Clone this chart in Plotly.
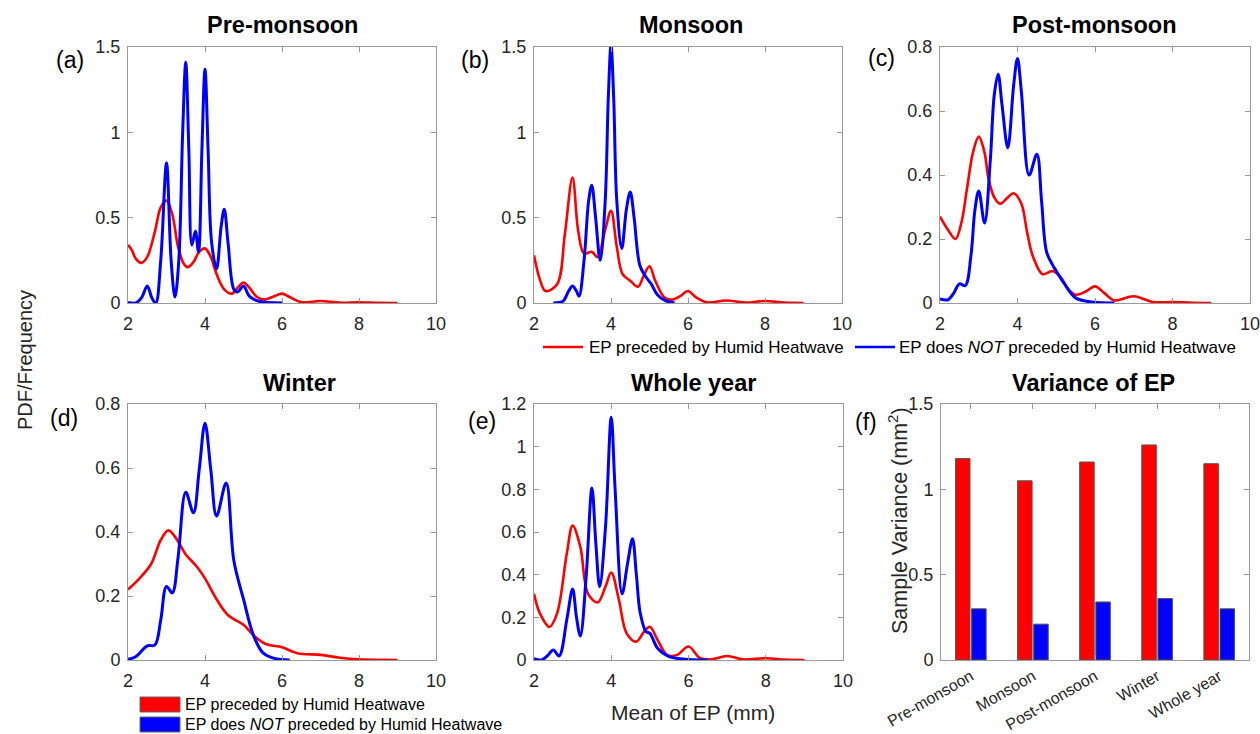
import plotly.graph_objects as go

# ---------------- data ----------------
# (a) Pre-monsoon
a_red_x = [2.0, 2.1, 2.2, 2.35, 2.5, 2.7, 2.85, 3.0, 3.15, 3.3, 3.45, 3.55, 3.7, 3.85, 4.0, 4.15, 4.3, 4.5, 4.7, 4.85,
           5.0, 5.15, 5.35, 5.55, 5.8, 6.0, 6.2, 6.5, 7.0, 7.5, 8.0, 8.5, 9.0]
a_red_y = [0.34, 0.31, 0.26, 0.235, 0.27, 0.42, 0.56, 0.60, 0.52, 0.33, 0.23, 0.21, 0.24, 0.30, 0.32, 0.27, 0.17, 0.08,
           0.055, 0.09, 0.12, 0.09, 0.035, 0.02, 0.04, 0.055, 0.035, 0.005, 0.012, 0.002, 0.004, 0.001, 0.0]
a_blue_x = [2.0, 2.2, 2.35, 2.5, 2.62, 2.72, 2.85, 3.0, 3.12, 3.22, 3.32, 3.42, 3.5, 3.58, 3.66, 3.75, 3.83, 3.92, 4.0,
            4.08, 4.17, 4.3, 4.42, 4.5, 4.6, 4.75, 4.85, 5.0, 5.15, 5.4, 6.0]
a_blue_y = [0.003, 0.0, 0.03, 0.10, 0.03, 0.0, 0.25, 0.82, 0.25, 0.035, 0.25, 1.0, 1.41, 0.9, 0.34, 0.42, 0.30, 0.9, 1.37,
            0.9, 0.36, 0.2, 0.45, 0.55, 0.35, 0.08, 0.065, 0.10, 0.04, 0.01, 0.0]

# (b) Monsoon
b_red_x = [2.0, 2.15, 2.3, 2.6, 2.8, 3.0, 3.15, 3.3, 3.5, 3.65, 3.85, 4.0, 4.15, 4.3, 4.5, 4.7, 4.85, 5.0, 5.15, 5.4,
           5.6, 5.8, 6.0, 6.2, 6.5, 7.0, 7.5, 8.0, 8.5, 9.0]
b_red_y = [0.28, 0.14, 0.07, 0.11, 0.40, 0.735, 0.42, 0.29, 0.30, 0.27, 0.43, 0.54, 0.33, 0.17, 0.13, 0.095, 0.16, 0.215,
           0.13, 0.03, 0.02, 0.04, 0.07, 0.035, 0.003, 0.015, 0.002, 0.012, 0.002, 0.0]
b_blue_x = [2.5, 2.75, 2.9, 3.0, 3.1, 3.17, 3.3, 3.42, 3.5, 3.6, 3.72, 3.85, 3.93, 4.0, 4.07, 4.15, 4.28, 4.4, 4.5, 4.6,
            4.75, 4.9, 5.05, 5.2, 5.4, 5.65]
b_blue_y = [0.0, 0.01, 0.07, 0.1, 0.07, 0.04, 0.25, 0.6, 0.69, 0.5, 0.25, 0.6, 1.2, 1.51, 1.2, 0.6, 0.32, 0.55, 0.65, 0.5,
            0.22, 0.155, 0.11, 0.05, 0.015, 0.0]

# (c) Post-monsoon
c_red_x = [2.0, 2.2, 2.4, 2.55, 2.7, 2.85, 3.0, 3.15, 3.25, 3.4, 3.55, 3.75, 3.9, 4.1, 4.25, 4.4, 4.65, 4.9, 5.1, 5.3,
           5.5, 5.75, 6.0, 6.25, 6.5, 7.0, 7.5, 8.0, 8.5, 9.0]
c_red_y = [0.27, 0.23, 0.2, 0.25, 0.36, 0.47, 0.52, 0.47, 0.39, 0.33, 0.31, 0.33, 0.343, 0.31, 0.22, 0.145, 0.09, 0.10,
           0.083, 0.045, 0.026, 0.035, 0.052, 0.03, 0.008, 0.021, 0.003, 0.003, 0.001, 0.0]
c_blue_x = [2.0, 2.2, 2.35, 2.5, 2.65, 2.8, 2.9, 3.0, 3.15, 3.3, 3.4, 3.5, 3.6, 3.75, 3.9, 4.0, 4.1, 4.3, 4.5, 4.62,
            4.75, 4.9, 5.0, 5.2, 5.5, 6.0, 6.5]
c_blue_y = [0.013, 0.01, 0.03, 0.06, 0.054, 0.15, 0.29, 0.35, 0.25, 0.45, 0.65, 0.715, 0.62, 0.485, 0.68, 0.764, 0.66,
            0.40, 0.465, 0.32, 0.16, 0.12, 0.1, 0.062, 0.016, 0.002, 0.0]

# (d) Winter
d_red_x = [2.0, 2.3, 2.6, 2.85, 3.05, 3.25, 3.5, 3.8, 4.0, 4.3, 4.6, 5.0, 5.3, 5.6, 6.0, 6.4, 7.0, 7.5, 8.0, 9.0]
d_red_y = [0.22, 0.255, 0.30, 0.375, 0.405, 0.38, 0.33, 0.29, 0.255, 0.19, 0.14, 0.11, 0.073, 0.049, 0.04, 0.021, 0.016,
           0.007, 0.002, 0.0]
d_blue_x = [2.0, 2.2, 2.5, 2.7, 2.85, 3.0, 3.15, 3.3, 3.5, 3.7, 3.85, 4.0, 4.15, 4.3, 4.55, 4.75, 5.0, 5.25, 5.5, 5.8,
            6.2]
d_blue_y = [0.002, 0.01, 0.044, 0.047, 0.125, 0.23, 0.21, 0.32, 0.524, 0.46, 0.595, 0.74, 0.595, 0.45, 0.553, 0.31,
            0.19, 0.08, 0.023, 0.005, 0.0]

# (e) Whole year
e_red_x = [2.0, 2.15, 2.4, 2.6, 2.85, 3.0, 3.2, 3.4, 3.65, 3.85, 4.0, 4.2, 4.4, 4.65, 4.85, 5.0, 5.2, 5.45, 5.7, 6.0,
           6.3, 6.6, 7.0, 7.4, 8.0, 8.5, 9.0]
e_red_y = [0.31, 0.22, 0.155, 0.22, 0.5, 0.63, 0.53, 0.31, 0.27, 0.344, 0.41, 0.28, 0.125, 0.086, 0.133, 0.156, 0.094,
           0.023, 0.023, 0.063, 0.008, 0.003, 0.019, 0.003, 0.008, 0.002, 0.0]
e_blue_x = [2.0, 2.2, 2.35, 2.5, 2.65, 2.85, 3.0, 3.1, 3.2, 3.35, 3.5, 3.6, 3.7, 3.85, 4.0, 4.1, 4.28, 4.42, 4.55, 4.65,
            4.75, 4.9, 5.0, 5.2, 5.5, 6.0, 6.5]
e_blue_y = [0.006, 0.0, 0.02, 0.047, 0.019, 0.19, 0.333, 0.2, 0.113, 0.39, 0.806, 0.55, 0.344, 0.62, 1.138, 0.8, 0.31,
            0.45, 0.568, 0.4, 0.22, 0.133, 0.125, 0.055, 0.016, 0.002, 0.0]

# (f) Variance of EP
f_categories = ["Pre-monsoon", "Monsoon", "Post-monsoon", "Winter", "Whole year"]
f_red = [1.18, 1.05, 1.16, 1.26, 1.15]
f_blue = [0.30, 0.21, 0.34, 0.36, 0.30]

panel_titles = ["Pre-monsoon", "Monsoon", "Post-monsoon", "Winter", "Whole year", "Variance of EP"]
panel_letters = ["(a)", "(b)", "(c)", "(d)", "(e)", "(f)"]
name_red = "EP preceded by Humid Heatwave"
name_blue = "EP does <i>NOT</i> preceded by Humid Heatwave"
x_ticks = [2, 4, 6, 8, 10]

# ---------------- layout helpers ----------------
W, H = 1260, 734
FONT = "Liberation Sans, Arial, Helvetica, sans-serif"
RED, BLUE = "#ff0000", "#0000ff"
AX_COL = "#9a9a9a"
TXT_COL = "#262626"


def X(p):
    return p / W


def Y(p):
    return 1 - p / H


fig = go.Figure()

curve_panels = [
    (a_red_x, a_red_y, a_blue_x, a_blue_y),
    (b_red_x, b_red_y, b_blue_x, b_blue_y),
    (c_red_x, c_red_y, c_blue_x, c_blue_y),
    (d_red_x, d_red_y, d_blue_x, d_blue_y),
    (e_red_x, e_red_y, e_blue_x, e_blue_y),
]

for i, (rx, ry, bx, by) in enumerate(curve_panels):
    xa = "x" if i == 0 else f"x{i+1}"
    ya = "y" if i == 0 else f"y{i+1}"
    fig.add_trace(go.Scatter(x=rx, y=ry, mode="lines", xaxis=xa, yaxis=ya, name=name_red,
                             line=dict(color=RED, width=2.6, shape="spline", smoothing=1.0),
                             showlegend=False))
    fig.add_trace(go.Scatter(x=bx, y=by, mode="lines", xaxis=xa, yaxis=ya, name=name_blue,
                             line=dict(color=BLUE, width=3, shape="spline", smoothing=1.0),
                             showlegend=False))

fig.add_trace(go.Bar(x=f_categories, y=f_red, xaxis="x6", yaxis="y6", name=name_red, showlegend=False,
                     marker=dict(color=RED, line=dict(color="#555555", width=1))))
fig.add_trace(go.Bar(x=f_categories, y=f_blue, xaxis="x6", yaxis="y6", name=name_blue, showlegend=False,
                     marker=dict(color=BLUE, line=dict(color="#555555", width=1))))

# domains in pixels: (left, right, top, bottom)
boxes = [
    (128, 436, 47, 303),
    (534, 842, 47, 303),
    (940, 1250, 47, 303),
    (128, 436, 404, 660),
    (534, 843, 404, 660),
    (941, 1249, 404, 660),
]
y_ranges = [[0, 1.5], [0, 1.5], [0, 0.8], [0, 0.8], [0, 1.2], [0, 1.5]]
y_ticks = [[0, 0.5, 1, 1.5], [0, 0.5, 1, 1.5], [0, 0.2, 0.4, 0.6, 0.8], [0, 0.2, 0.4, 0.6, 0.8],
           [0, 0.2, 0.4, 0.6, 0.8, 1, 1.2], [0, 0.5, 1, 1.5]]

common = dict(showline=True, linecolor=AX_COL, linewidth=1, mirror="ticks", ticks="inside", ticklen=5,
              tickcolor=AX_COL, showgrid=False, zeroline=False, automargin=False,
              ticklabeloverflow="allow",
              tickfont=dict(family=FONT, size=18, color=TXT_COL))

layout = {}
for i, (l, r, t, b) in enumerate(boxes):
    xk = "xaxis" if i == 0 else f"xaxis{i+1}"
    yk = "yaxis" if i == 0 else f"yaxis{i+1}"
    ya = "y" if i == 0 else f"y{i+1}"
    xa = "x" if i == 0 else f"x{i+1}"
    if i < 5:
        layout[xk] = dict(common, domain=[X(l), X(r)], anchor=ya, range=[2, 10], tickvals=x_ticks,
                          ticklabelstandoff=4)
    else:
        layout[xk] = dict(common, domain=[X(l), X(r)], anchor=ya, type="category", range=[-0.48, 4.48],
                          tickangle=-30, ticklabelstandoff=0,
                          tickfont=dict(family=FONT, size=16, color=TXT_COL))
    layout[yk] = dict(common, domain=[Y(b), Y(t)], anchor=xa, range=y_ranges[i], tickvals=y_ticks[i],
                      ticklabelstandoff=3)

fig.update_layout(**layout)

annotations = []
title_pos = [(282, 25), (691, 25), (1094, 25), (299, 383), (693, 383), (1093, 383)]
for (tx, ty), txt in zip(title_pos, panel_titles):
    annotations.append(dict(x=X(tx), y=Y(ty), xref="paper", yref="paper", text=f"<b>{txt}</b>",
                            showarrow=False, xanchor="center", yanchor="middle",
                            font=dict(family=FONT, size=23.5, color="black")))
letter_pos = [(70, 60), (475, 60), (881, 58), (64, 418), (482, 421), (866, 422)]
for (lx, ly), txt in zip(letter_pos, panel_letters):
    annotations.append(dict(x=X(lx), y=Y(ly), xref="paper", yref="paper", text=txt, showarrow=False,
                            xanchor="center", yanchor="middle", font=dict(family=FONT, size=23, color="black")))

annotations.append(dict(x=X(25), y=Y(360), xref="paper", yref="paper", text="PDF/Frequency", textangle=-90,
                        showarrow=False, xanchor="center", yanchor="middle",
                        font=dict(family=FONT, size=20, color=TXT_COL)))
annotations.append(dict(x=X(693), y=Y(712), xref="paper", yref="paper", text="Mean of EP (mm)",
                        showarrow=False, xanchor="center", yanchor="middle",
                        font=dict(family=FONT, size=21, color=TXT_COL)))
annotations.append(dict(x=X(898), y=Y(521), xref="paper", yref="paper", text="Sample Variance (mm<sup>2</sup>)",
                        textangle=-90, showarrow=False, xanchor="center", yanchor="middle",
                        font=dict(family=FONT, size=21.5, color=TXT_COL)))

shapes = []
# top line legend (between rows)
for (lx0, lx1, tx), col, txt in [((543, 583, 587), RED, name_red), ((855, 895, 897), BLUE, name_blue)]:
    shapes.append(dict(type="line", xref="paper", yref="paper", x0=X(lx0), x1=X(lx1), y0=Y(347), y1=Y(347),
                       line=dict(color=col, width=2.6)))
    annotations.append(dict(x=X(tx), y=Y(347), xref="paper", yref="paper", text=txt, showarrow=False,
                            xanchor="left", yanchor="middle", font=dict(family=FONT, size=17, color="black")))

# bottom-left patch legend
for (y0, y1), col, txt in [((697, 712), RED, name_red), ((717, 732), BLUE, name_blue)]:
    shapes.append(dict(type="rect", xref="paper", yref="paper", x0=X(140), x1=X(180), y0=Y(y1), y1=Y(y0),
                       fillcolor=col, line=dict(color="#666666", width=1)))
    annotations.append(dict(x=X(183), y=Y((y0 + y1) / 2), xref="paper", yref="paper", text=txt, showarrow=False,
                            xanchor="left", yanchor="middle", font=dict(family=FONT, size=16, color="black")))

fig.update_layout(
    width=W, height=H, margin=dict(l=0, r=0, t=0, b=0, autoexpand=False),
    paper_bgcolor="white", plot_bgcolor="white",
    bargap=0.48, bargroupgap=0.1, barmode="group",
    annotations=annotations, shapes=shapes,
    showlegend=False,
    font=dict(family=FONT),
)

fig.write_html("out.html")
